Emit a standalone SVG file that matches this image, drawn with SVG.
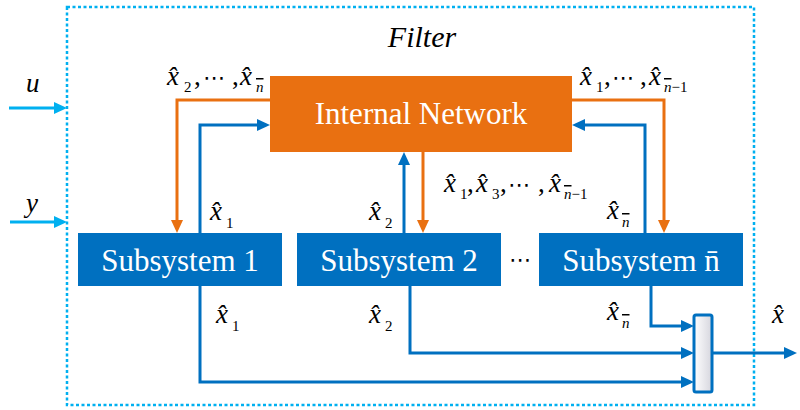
<svg xmlns="http://www.w3.org/2000/svg" width="800" height="410" viewBox="0 0 800 410">
<style>
.bg{fill:#ffffff}
.frame{fill:none;stroke:#00B0F0;stroke-width:2.5;stroke-dasharray:3 2.5}
.net{fill:#E97011}
.sub{fill:#0070C0}
.box-t{font-family:'Liberation Serif',serif;font-size:31px;fill:#ffffff;text-anchor:middle}
.title{font-family:'Liberation Serif',serif;font-size:30px;font-style:italic;fill:#000}
.m{font-family:'Liberation Serif',serif;font-size:27px;font-style:italic;fill:#000}
.s{font-size:15px;font-style:normal}
.si{font-size:15px;font-style:italic}
.ov{text-decoration:overline}
.r{font-style:normal}
.dots{font-family:'DejaVu Sans',sans-serif;font-style:normal;font-size:22px}
.cb{fill:none;stroke:#0070C0;stroke-width:3}
.co{fill:none;stroke:#E97011;stroke-width:3}
.ci{fill:none;stroke:#00B0F0;stroke-width:3}
.mux{fill:url(#muxg);stroke:#0070C0;stroke-width:3}
</style>
<defs>
<linearGradient id="muxg" x1="0" y1="0" x2="1" y2="0">
<stop offset="0" stop-color="#ffffff"/>
<stop offset="1" stop-color="#d6d6de"/>
</linearGradient>
<marker id="ab" markerUnits="userSpaceOnUse" markerWidth="14" markerHeight="12" refX="3" refY="6" orient="auto"><path d="M0,0 L13,6 L0,12 z" fill="#0070C0"/></marker>
<marker id="ao" markerUnits="userSpaceOnUse" markerWidth="14" markerHeight="12" refX="3" refY="6" orient="auto"><path d="M0,0 L13,6 L0,12 z" fill="#E97011"/></marker>
<marker id="ai" markerUnits="userSpaceOnUse" markerWidth="14" markerHeight="12" refX="3" refY="6" orient="auto"><path d="M0,0 L13,6 L0,12 z" fill="#00B0F0"/></marker>
</defs>
<rect class="bg" x="0" y="0" width="800" height="410"/>

<g id="filter">
<rect class="frame" x="67" y="7" width="687" height="398"/>
<text class="title" x="422" y="47" text-anchor="middle">Filter</text>
</g>

<g id="connectors">
<path class="ci" d="M9,108 H57" marker-end="url(#ai)"/>
<path class="ci" d="M10,222 H57" marker-end="url(#ai)"/>
<path class="co" d="M270,100 H177 V223" marker-end="url(#ao)"/>
<path class="cb" d="M200,233 V125 H260" marker-end="url(#ab)"/>
<path class="co" d="M572,100 H664 V223" marker-end="url(#ao)"/>
<path class="cb" d="M645,233 V125 H582" marker-end="url(#ab)"/>
<path class="cb" d="M404,233 V162" marker-end="url(#ab)"/>
<path class="co" d="M423,152 V223" marker-end="url(#ao)"/>
<path class="cb" d="M200,286 V382 H684" marker-end="url(#ab)"/>
<path class="cb" d="M410,286 V353 H684" marker-end="url(#ab)"/>
<path class="cb" d="M651,286 V326 H684" marker-end="url(#ab)"/>
<path class="cb" d="M712,353 H787" marker-end="url(#ab)"/>
</g>

<g id="internal-network">
<rect class="net" x="270" y="76" width="302" height="76"/>
<text class="box-t" x="421" y="124">Internal Network</text>
</g>

<g id="subsystem-1">
<rect class="sub" x="78" y="233" width="204" height="53"/>
<text class="box-t" x="180" y="271">Subsystem 1</text>
</g>

<g id="subsystem-2">
<rect class="sub" x="297" y="233" width="204" height="53"/>
<text class="box-t" x="399" y="271">Subsystem 2</text>
</g>

<g id="ellipsis">
<text class="dots" x="520" y="267" text-anchor="middle">⋯</text>
</g>

<g id="subsystem-n">
<rect class="sub" x="539" y="233" width="204" height="53"/>
<text class="box-t" x="641" y="271">Subsystem n̄</text>
</g>

<g id="mux">
<rect class="mux" x="694" y="315" width="18" height="77" rx="2"/>
</g>

<g id="labels">
<text class="m" x="26" y="92">u</text>
<text class="m" x="26" y="212">y</text>

<text class="m"><tspan x="167" y="85">x̂</tspan><tspan class="s" x="184" y="92">2</tspan><tspan class="r" x="194" y="85">,</tspan><tspan class="dots" x="203" y="85">⋯</tspan><tspan class="r" x="232" y="85">,</tspan><tspan x="240" y="85">x̂</tspan><tspan class="si ov" x="256" y="92">n</tspan></text>

<text class="m"><tspan x="580" y="85">x̂</tspan><tspan class="s" x="596" y="92">1</tspan><tspan class="r" x="604" y="85">,</tspan><tspan class="dots" x="612" y="85">⋯</tspan><tspan class="r" x="640" y="85">,</tspan><tspan x="649" y="85">x̂</tspan><tspan class="si ov" x="664" y="92">n</tspan><tspan class="s">−1</tspan></text>

<text class="m"><tspan x="444" y="192">x̂</tspan><tspan class="s" x="460" y="199">1</tspan><tspan class="r" x="467" y="192">,</tspan><tspan x="476" y="192">x̂</tspan><tspan class="s" x="492" y="199">3</tspan><tspan class="r" x="500" y="192">,</tspan><tspan class="dots" x="508" y="192">⋯</tspan><tspan class="r" x="538" y="192">,</tspan><tspan x="549" y="192">x̂</tspan><tspan class="si ov" x="564" y="199">n</tspan><tspan class="s">−1</tspan></text>

<text class="m"><tspan x="210" y="220">x̂</tspan><tspan class="s" x="226" y="228">1</tspan></text>
<text class="m"><tspan x="369" y="220">x̂</tspan><tspan class="s" x="385" y="228">2</tspan></text>
<text class="m"><tspan x="607" y="219">x̂</tspan><tspan class="si ov" x="622" y="227">n</tspan></text>

<text class="m"><tspan x="216" y="323">x̂</tspan><tspan class="s" x="232" y="331">1</tspan></text>
<text class="m"><tspan x="369" y="323">x̂</tspan><tspan class="s" x="385" y="331">2</tspan></text>
<text class="m"><tspan x="607" y="320">x̂</tspan><tspan class="si ov" x="622" y="328">n</tspan></text>

<text class="m" x="772" y="323">x̂</text>
</g>
</svg>
